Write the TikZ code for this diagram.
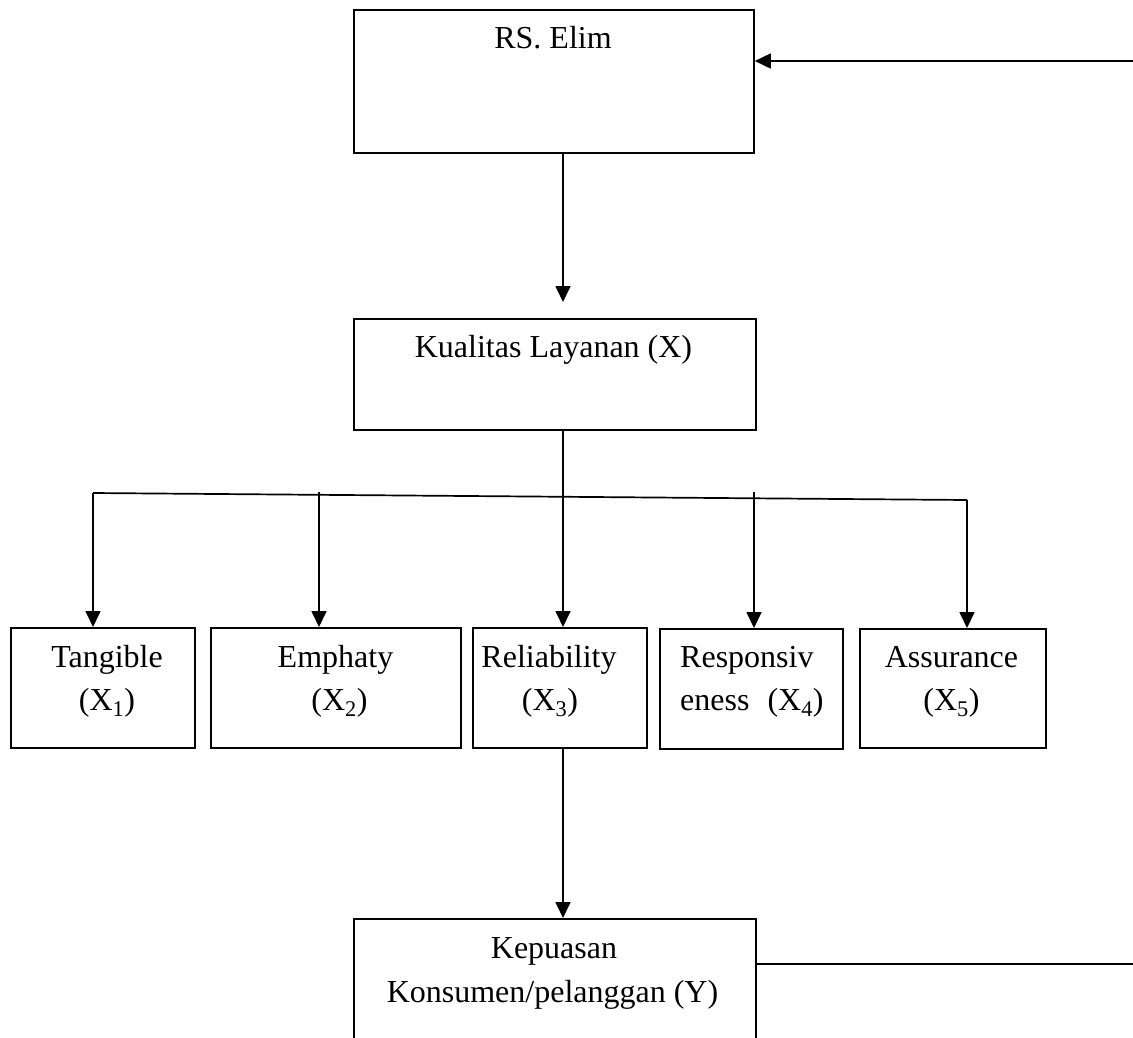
\documentclass[tikz,border=0pt]{standalone}
\usepackage{fontspec}
\setmainfont{Liberation Serif}
\usetikzlibrary{arrows.meta}
\begin{document}
\begin{tikzpicture}[x=1pt,y=-1pt,
  box/.style={draw, line width=1.8pt, rectangle, inner sep=0pt, anchor=north west},
  txt/.style={inner sep=0pt, font=\fontsize{32pt}{43pt}\selectfont},
  conn/.style={line width=1.7pt},
  arr/.style={line width=1.7pt, -{Triangle[length=16pt,width=15pt]}}]
\useasboundingbox (0,0) rectangle (1133,1037);
\clip (0,0) rectangle (1133,1037);
% boxes
\node[box, minimum width=400pt, minimum height=143pt] (rs) at (353,9) {};
\node[box, minimum width=402pt, minimum height=111pt] (kq) at (353,318) {};
\node[box, minimum width=184pt, minimum height=120pt] (t1) at (10,627) {};
\node[box, minimum width=250pt, minimum height=120pt] (t2) at (210,627) {};
\node[box, minimum width=174pt, minimum height=120pt] (t3) at (472,627) {};
\node[box, minimum width=183pt, minimum height=120pt] (t4) at (659,628) {};
\node[box, minimum width=186pt, minimum height=119pt] (t5) at (859,628) {};
\node[box, minimum width=402pt, minimum height=160pt] (kp) at (353,918) {};
% texts
\node[txt, anchor=base] (lrs) at (553,48) {RS. Elim};
\node[txt, anchor=base] (lkq) at (553.5,357) {Kualitas Layanan (X)};
\node[txt, anchor=base] (l1a) at (107,667) {Tangible};
\node[txt, anchor=base] (l1b) at (107,710) {(X\textsubscript{1})};
\node[txt, anchor=base] (l2a) at (335.5,667) {Emphaty};
\node[txt, anchor=base] (l2b) at (339.5,710) {(X\textsubscript{2})};
\node[txt, anchor=base] (l3a) at (549,667) {Reliability};
\node[txt, anchor=base] (l3b) at (550,710) {(X\textsubscript{3})};
\node[txt, anchor=base west] (l4a) at (680,667) {Responsiv};
\node[txt, anchor=base west] (l4b) at (680,710) {eness\hspace{18pt}(X\textsubscript{4})};
\node[txt, anchor=base] (l5a) at (951.5,667) {Assurance};
\node[txt, anchor=base] (l5b) at (951.5,710) {(X\textsubscript{5})};
\node[txt, anchor=base] (lkp1) at (554,958) {Kepuasan};
\node[txt, anchor=base] (lkp2) at (552.5,1002) {Konsumen/pelanggan (Y)};
% coordinates
\coordinate (spine) at (563,0);
\coordinate (bl) at (93,493);
\coordinate (br) at (967,500);
\coordinate (e0) at (319,492);
\coordinate (r0) at (754,492);
% connectors
\draw[arr] (rs.south -| spine) -- ([yshift=16pt]kq.north -| spine);
\draw[arr] (kq.south -| spine) -- (t3.north -| spine);
\draw[conn] (bl) -- (br);
\draw[arr] (bl) -- (t1.north -| bl);
\draw[arr] (e0) -- (t2.north -| e0);
\draw[arr] (r0) -- (t4.north -| r0);
\draw[arr] (br) -- (t5.north -| br);
\draw[arr] (t3.south -| spine) -- (kp.north -| spine);
\draw[arr] (kp.east |- 0,964) -- (1150,964) |- (rs.east |- 0,61);
\end{tikzpicture}
\end{document}
